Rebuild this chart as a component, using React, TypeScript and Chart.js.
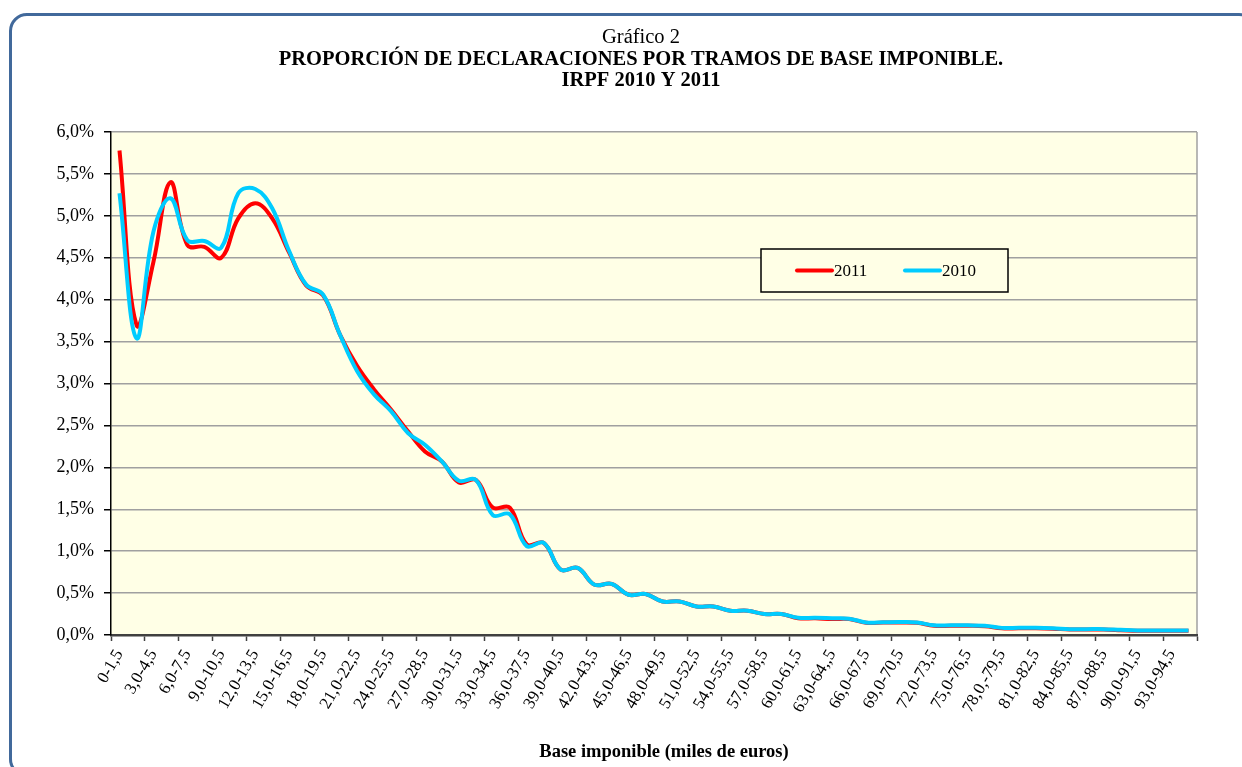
import React, { useEffect, useRef } from 'react';
import { Chart, registerables } from 'chart.js';

Chart.register(...registerables);

const categories: string[] = [
  '0-1,5', '1,5-3,0', '3,0-4,5', '4,5-6,0', '6,0-7,5', '7,5-9,0', '9,0-10,5', '10,5-12,0',
  '12,0-13,5', '13,5-15,0', '15,0-16,5', '16,5-18,0', '18,0-19,5', '19,5-21,0', '21,0-22,5', '22,5-24,0',
  '24,0-25,5', '25,5-27,0', '27,0-28,5', '28,5-30,0', '30,0-31,5', '31,5-33,0', '33,0-34,5', '34,5-36,0',
  '36,0-37,5', '37,5-39,0', '39,0-40,5', '40,5-42,0', '42,0-43,5', '43,5-45,0', '45,0-46,5', '46,5-48,0',
  '48,0-49,5', '49,5-51,0', '51,0-52,5', '52,5-54,0', '54,0-55,5', '55,5-57,0', '57,0-58,5', '58,5-60,0',
  '60,0-61,5', '61,5-63,0', '63,0-64,,5', '64,5-66,0', '66,0-67,5', '67,5-69,0', '69,0-70,5', '70,5-72,0',
  '72,0-73,5', '73,5-75,0', '75,0-76,5', '76,5-78,0', '78,0,-79,5', '79,5-81,0', '81,0-82,5', '82,5-84,0',
  '84,0-85,5', '85,5-87,0', '87,0-88,5', '88,5-90,0', '90,0-91,5', '91,5-93,0', '93,0-94,5', '94,5-96,0',
];

const series2011: number[] = [
  5.78, 3.70, 4.45, 5.40, 4.65, 4.63, 4.50, 4.97,
  5.15, 4.97, 4.56, 4.17, 4.05, 3.58, 3.21, 2.93,
  2.69, 2.43, 2.19, 2.07, 1.82, 1.85, 1.52, 1.52,
  1.08, 1.10, 0.78, 0.80, 0.60, 0.61, 0.48, 0.49,
  0.40, 0.40, 0.34, 0.34, 0.29, 0.29, 0.25, 0.25,
  0.20, 0.20, 0.19, 0.19, 0.145, 0.148, 0.15, 0.145,
  0.11, 0.11, 0.11, 0.105, 0.08, 0.08, 0.08, 0.075,
  0.065, 0.065, 0.065, 0.058, 0.05, 0.05, 0.05, 0.05,
];

const series2010: number[] = [
  5.27, 3.54, 4.81, 5.21, 4.71, 4.70, 4.62, 5.27,
  5.32, 5.09, 4.58, 4.18, 4.06, 3.58, 3.15, 2.87,
  2.67, 2.41, 2.27, 2.07, 1.84, 1.85, 1.43, 1.44,
  1.06, 1.10, 0.78, 0.80, 0.60, 0.61, 0.48, 0.49,
  0.40, 0.40, 0.34, 0.34, 0.29, 0.29, 0.25, 0.25,
  0.205, 0.205, 0.20, 0.195, 0.15, 0.152, 0.155, 0.15,
  0.115, 0.115, 0.115, 0.11, 0.085, 0.085, 0.085, 0.08,
  0.07, 0.07, 0.07, 0.062, 0.055, 0.055, 0.055, 0.055,
];

const seriesLabels: string[] = ['2011', '2010'];
const seriesColors: string[] = ['#FF0000', '#00CCFF'];

const titleLines: string[] = [
  'Gráfico 2',
  'PROPORCIÓN DE DECLARACIONES POR TRAMOS DE BASE IMPONIBLE.',
  'IRPF 2010 Y 2011',
];
const xAxisTitle = 'Base imponible (miles de euros)';

const FONT = '"Liberation Serif", "Times New Roman", serif';
const PLOT_BG = '#FFFFE6';

const backgroundPlugin = {
  id: 'plotBackground',
  beforeDraw(chart: any) {
    const { ctx, chartArea } = chart;
    if (!chartArea) return;
    ctx.save();
    ctx.fillStyle = PLOT_BG;
    ctx.fillRect(chartArea.left, chartArea.top, chartArea.right - chartArea.left, chartArea.bottom - chartArea.top);
    ctx.strokeStyle = '#A0A0A0';
    ctx.lineWidth = 1.5;
    ctx.beginPath();
    ctx.moveTo(chartArea.right, chartArea.top);
    ctx.lineTo(chartArea.right, chartArea.bottom);
    ctx.stroke();
    ctx.restore();
  },
};

const textPlugin = {
  id: 'texts',
  afterDraw(chart: any) {
    const { ctx } = chart;
    ctx.save();
    ctx.fillStyle = '#000';
    ctx.textAlign = 'center';
    ctx.textBaseline = 'middle';
    ctx.font = `20.5px ${FONT}`;
    ctx.fillText(titleLines[0], 641, 38);
    ctx.font = `bold 20.5px ${FONT}`;
    ctx.fillText(titleLines[1], 641, 60);
    ctx.fillText(titleLines[2], 641, 81);
    ctx.font = `bold 18.5px ${FONT}`;
    ctx.fillText(xAxisTitle, 664, 752);

    // legend box
    const bx = 761, by = 249, bw = 247, bh = 43;
    ctx.fillStyle = PLOT_BG;
    ctx.fillRect(bx, by, bw, bh);
    ctx.strokeStyle = '#000';
    ctx.lineWidth = 1.5;
    ctx.strokeRect(bx, by, bw, bh);
    const cy = by + bh / 2;
    const starts = [797, 905];
    chart.data.datasets.forEach((ds: any, i: number) => {
      const x0 = starts[i];
      ctx.strokeStyle = ds.borderColor;
      ctx.lineWidth = 4;
      ctx.lineCap = 'round';
      ctx.beginPath();
      ctx.moveTo(x0, cy);
      ctx.lineTo(x0 + 35, cy);
      ctx.stroke();
      ctx.fillStyle = '#000';
      ctx.textAlign = 'left';
      ctx.font = `17px ${FONT}`;
      ctx.fillText(ds.label, x0 + 37, cy + 1);
    });
    ctx.restore();
  },
};

export default function App() {
  const ref = useRef<HTMLCanvasElement>(null);

  useEffect(() => {
    const canvas = ref.current;
    if (!canvas) return;
    const chart = new Chart(canvas, {
      type: 'line',
      data: {
        labels: categories,
        datasets: [
          {
            label: seriesLabels[0],
            data: series2011,
            borderColor: seriesColors[0],
            backgroundColor: seriesColors[0],
            borderWidth: 4,
            pointRadius: 0,
            tension: 0.4,
            fill: false,
            order: 1,
          },
          {
            label: seriesLabels[1],
            data: series2010,
            borderColor: seriesColors[1],
            backgroundColor: seriesColors[1],
            borderWidth: 4,
            pointRadius: 0,
            tension: 0.4,
            fill: false,
            order: 0,
          },
        ],
      },
      options: {
        responsive: false,
        animation: false,
        devicePixelRatio: 1,
        events: [],
        layout: { padding: { left: 0, right: 45, top: 132, bottom: 0 } },
        plugins: {
          legend: { display: false },
          title: { display: false },
          tooltip: { enabled: false },
        },
        scales: {
          x: {
            type: 'category',
            offset: true,
            grid: {
              display: true,
              offset: true,
              drawOnChartArea: false,
              drawTicks: true,
              tickLength: 6,
              tickWidth: 1.5,
              tickColor: (c: any) =>
                c.type !== 'tick' || c.index % 2 === 0 ? '#404040' : 'rgba(0,0,0,0)',
            },
            border: { display: true, color: '#404040', width: 2.5 },
            ticks: {
              autoSkip: false,
              maxRotation: 60,
              minRotation: 60,
              padding: 5,
              color: '#000',
              font: { family: FONT, size: 17 },
              callback: (_v: any, i: number) => (i % 2 === 0 ? categories[i] : ''),
            },
            afterFit: (s: any) => {
              s.height = 132;
            },
          },
          y: {
            min: 0,
            max: 6,
            ticks: {
              stepSize: 0.5,
              padding: 10,
              color: '#000',
              font: { family: FONT, size: 18 },
              callback: (v: any) => Number(v).toFixed(1).replace('.', ',') + '%',
            },
            grid: {
              color: '#A0A0A0',
              lineWidth: 1.5,
              drawTicks: true,
              tickLength: 7,
              tickColor: '#000',
            },
            border: { display: true, color: '#000', width: 1.5 },
            afterFit: (s: any) => {
              s.width = 111;
            },
          },
        },
      },
      plugins: [backgroundPlugin, textPlugin],
    });
    return () => chart.destroy();
  }, []);

  return (
    <div
      style={{
        position: 'fixed',
        left: 0,
        top: 0,
        width: 1242,
        height: 767,
        overflow: 'hidden',
        background: '#fff',
      }}
    >
      <div
        style={{
          position: 'absolute',
          left: 9,
          top: 13,
          width: 1248,
          height: 764,
          border: '3px solid #41699B',
          borderRadius: 18,
          boxSizing: 'border-box',
        }}
      />
      <canvas ref={ref} width={1242} height={767} style={{ position: 'absolute', left: 0, top: 0 }} />
    </div>
  );
}
